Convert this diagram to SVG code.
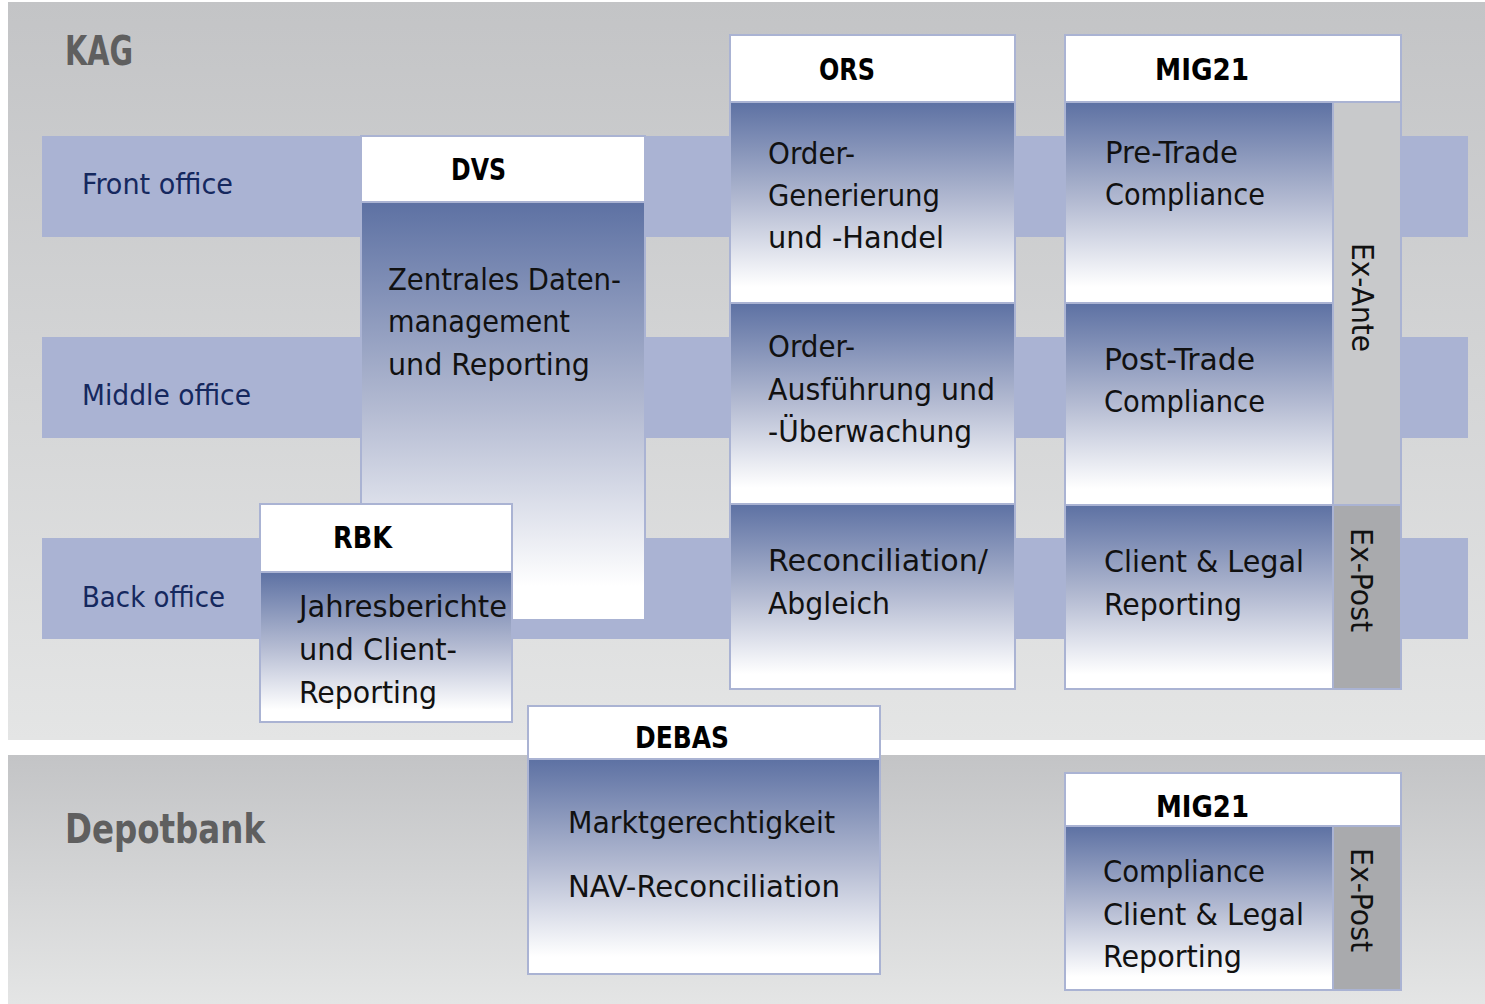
<svg xmlns="http://www.w3.org/2000/svg" width="1485" height="1004" viewBox="0 0 1485 1004">
<style>
text{font-family:"DejaVu Sans Condensed","DejaVu Sans",sans-serif;font-stretch:condensed}
.title{font-weight:bold;font-size:41px;fill:#5f5f5f}
.office{font-size:29px;fill:#15285e}
.hdr{font-weight:bold;font-size:31px;fill:#000}
.body{font-size:30px;fill:#111}
.vert{font-size:31px;fill:#111}
.head{fill:#fff;stroke:#aab3d3;stroke-width:2}
.sec{fill:url(#boxg);stroke:#aab3d3;stroke-width:2}
.exante{fill:#c8c9cb;stroke:#aab3d3;stroke-width:2}
.expost{fill:#a9aaad;stroke:#aab3d3;stroke-width:2}
.band{fill:#aab3d3}
</style>
<defs>
<linearGradient id="bgg" x1="0" y1="0" x2="0" y2="1">
<stop offset="0" stop-color="#c3c4c6"/>
<stop offset="1" stop-color="#e4e5e5"/>
</linearGradient>
<linearGradient id="boxg" x1="0" y1="0" x2="0" y2="1">
<stop offset="0" stop-color="#5d71a3"/>
<stop offset="0.5" stop-color="#b4bbd2"/>
<stop offset="0.92" stop-color="#ffffff"/>
</linearGradient>
</defs>
<rect width="1485" height="1004" fill="#fff"/>
<g id="kag">
<rect x="8" y="2" width="1477" height="738" fill="url(#bgg)"/>
<text class="title" x="65" y="65" textLength="68" lengthAdjust="spacingAndGlyphs">KAG</text>
</g>
<g id="depotbank">
<rect x="8" y="755" width="1477" height="249" fill="url(#bgg)"/>
<text class="title" x="65" y="843" textLength="200" lengthAdjust="spacingAndGlyphs">Depotbank</text>
</g>
<g id="bands">
<g id="front-office">
<rect class="band" x="42" y="136" width="1426" height="101"/>
<text class="office" x="82" y="194" textLength="151" lengthAdjust="spacingAndGlyphs">Front office</text>
</g>
<g id="middle-office">
<rect class="band" x="42" y="337" width="1426" height="101"/>
<text class="office" x="82" y="405" textLength="169" lengthAdjust="spacingAndGlyphs">Middle office</text>
</g>
<g id="back-office">
<rect class="band" x="42" y="538" width="1426" height="101"/>
<text class="office" x="82" y="607" textLength="143" lengthAdjust="spacingAndGlyphs">Back office</text>
</g>
</g>
<g id="connectors"/>
<g id="dvs">
<rect class="head" x="361" y="136" width="284" height="66"/>
<rect class="sec" x="361" y="202" width="284" height="418"/>
<text class="hdr" x="451" y="180" textLength="55" lengthAdjust="spacingAndGlyphs">DVS</text>
<text class="body" x="388" y="290" textLength="233" lengthAdjust="spacingAndGlyphs">Zentrales Daten-</text>
<text class="body" x="388" y="332" textLength="182" lengthAdjust="spacingAndGlyphs">management</text>
<text class="body" x="388" y="375" textLength="202" lengthAdjust="spacingAndGlyphs">und Reporting</text>
</g>
<g id="rbk">
<rect class="head" x="260" y="504" width="252" height="68"/>
<rect class="sec" x="260" y="572" width="252" height="150"/>
<text class="hdr" x="333" y="548" textLength="59" lengthAdjust="spacingAndGlyphs">RBK</text>
<text class="body" x="299" y="617" textLength="208" lengthAdjust="spacingAndGlyphs">Jahresberichte</text>
<text class="body" x="299" y="660" textLength="158" lengthAdjust="spacingAndGlyphs">und Client-</text>
<text class="body" x="299" y="703" textLength="138" lengthAdjust="spacingAndGlyphs">Reporting</text>
</g>
<g id="ors">
<rect class="head" x="730" y="35" width="285" height="67"/>
<rect class="sec" x="730" y="102" width="285" height="201"/>
<rect class="sec" x="730" y="303" width="285" height="201"/>
<rect class="sec" x="730" y="504" width="285" height="185"/>
<text class="hdr" x="819" y="80" textLength="56" lengthAdjust="spacingAndGlyphs">ORS</text>
<text class="body" x="768" y="164" textLength="87" lengthAdjust="spacingAndGlyphs">Order-</text>
<text class="body" x="768" y="206" textLength="172" lengthAdjust="spacingAndGlyphs">Generierung</text>
<text class="body" x="768" y="248" textLength="176" lengthAdjust="spacingAndGlyphs">und -Handel</text>
<text class="body" x="768" y="357" textLength="87" lengthAdjust="spacingAndGlyphs">Order-</text>
<text class="body" x="768" y="400" textLength="227" lengthAdjust="spacingAndGlyphs">Ausführung und</text>
<text class="body" x="768" y="442" textLength="204" lengthAdjust="spacingAndGlyphs">-Überwachung</text>
<text class="body" x="768" y="571" textLength="220" lengthAdjust="spacingAndGlyphs">Reconciliation/</text>
<text class="body" x="768" y="614" textLength="122" lengthAdjust="spacingAndGlyphs">Abgleich</text>
</g>
<g id="mig21-kag">
<rect class="head" x="1065" y="35" width="336" height="67"/>
<rect class="sec" x="1065" y="102" width="268" height="201"/>
<rect class="sec" x="1065" y="303" width="268" height="202"/>
<rect class="sec" x="1065" y="505" width="268" height="184"/>
<rect class="exante" x="1333" y="102" width="68" height="403"/>
<rect class="expost" x="1333" y="505" width="68" height="184"/>
<text class="hdr" x="1155" y="80" textLength="94" lengthAdjust="spacingAndGlyphs">MIG21</text>
<text class="body" x="1105" y="163" textLength="133" lengthAdjust="spacingAndGlyphs">Pre-Trade</text>
<text class="body" x="1105" y="205" textLength="160" lengthAdjust="spacingAndGlyphs">Compliance</text>
<text class="body" x="1104" y="370" textLength="151" lengthAdjust="spacingAndGlyphs">Post-Trade</text>
<text class="body" x="1104" y="412" textLength="161" lengthAdjust="spacingAndGlyphs">Compliance</text>
<text class="body" x="1104" y="572" textLength="200" lengthAdjust="spacingAndGlyphs">Client &amp; Legal</text>
<text class="body" x="1104" y="615" textLength="138" lengthAdjust="spacingAndGlyphs">Reporting</text>
<text class="vert" transform="translate(1352,243) rotate(90)" x="0" y="0" textLength="109" lengthAdjust="spacingAndGlyphs">Ex-Ante</text>
<text class="vert" transform="translate(1351,528) rotate(90)" x="0" y="0" textLength="104" lengthAdjust="spacingAndGlyphs">Ex-Post</text>
</g>
<g id="debas">
<rect class="head" x="528" y="706" width="352" height="53"/>
<rect class="sec" x="528" y="759" width="352" height="215"/>
<text class="hdr" x="635" y="748" textLength="94" lengthAdjust="spacingAndGlyphs">DEBAS</text>
<text class="body" x="568" y="833" textLength="267" lengthAdjust="spacingAndGlyphs">Marktgerechtigkeit</text>
<text class="body" x="568" y="897" textLength="272" lengthAdjust="spacingAndGlyphs">NAV-Reconciliation</text>
</g>
<g id="mig21-depotbank">
<rect class="head" x="1065" y="773" width="336" height="53"/>
<rect class="sec" x="1065" y="826" width="268" height="164"/>
<rect class="expost" x="1333" y="826" width="68" height="164"/>
<text class="hdr" x="1156" y="817" textLength="93" lengthAdjust="spacingAndGlyphs">MIG21</text>
<text class="body" x="1103" y="882" textLength="162" lengthAdjust="spacingAndGlyphs">Compliance</text>
<text class="body" x="1103" y="925" textLength="201" lengthAdjust="spacingAndGlyphs">Client &amp; Legal</text>
<text class="body" x="1103" y="967" textLength="139" lengthAdjust="spacingAndGlyphs">Reporting</text>
<text class="vert" transform="translate(1351,848) rotate(90)" x="0" y="0" textLength="104" lengthAdjust="spacingAndGlyphs">Ex-Post</text>
</g>
</svg>
